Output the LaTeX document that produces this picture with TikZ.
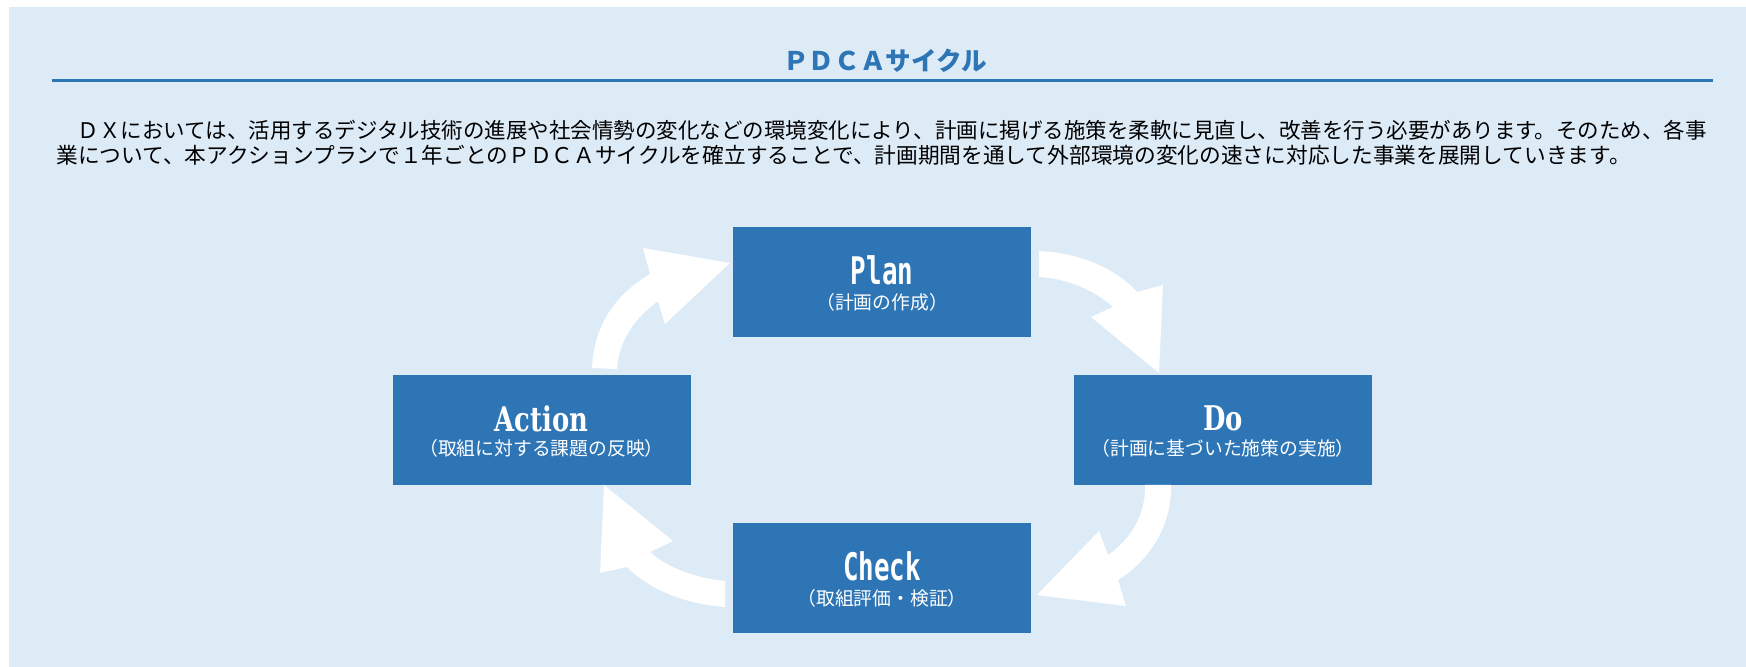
\documentclass[tikz,border=0pt]{standalone}
\usepackage{fontspec}
\usepackage{graphicx}
\newfontfamily\jpfont{Noto Sans CJK JP}
\newfontfamily\monosans{DejaVu Sans Mono}
\newfontfamily\serifhead{DejaVu Serif}
\definecolor{panelbg}{HTML}{DDEBF7}
\definecolor{boxblue}{HTML}{2E75B6}
\tikzset{
  stagebox/.style={fill=boxblue, draw=none, minimum width=149pt, minimum height=55pt, inner sep=0pt},
  mainlbl/.style={text=white, inner sep=0pt},
  sublbl/.style={text=white, inner sep=0pt, font=\jpfont\fontsize{9.4pt}{10pt}\selectfont},
  bodyline/.style={anchor=west, inner sep=0pt, text=black},
  blockarrow/.style={fill=white, draw=none}
}
\begin{document}
\begin{tikzpicture}[x=0.5pt,y=-0.5pt]
\useasboundingbox (0,0) rectangle (1746,667);
\fill[white] (0,0) rectangle (1746,667);
\fill[panelbg] (9,7) rectangle (1746,667);

% title
\node[inner sep=0pt, text=boxblue, font=\jpfont\bfseries\fontsize{12.8pt}{14pt}\selectfont] (title) at (885,61) {ＰＤＣＡサイクル};
\coordinate (ulA) at (52,80.5);
\coordinate (ulB) at (1713,80.5);
\draw[boxblue, line width=1.8pt] (ulA) -- (ulB);

% body text
\node[bodyline, font=\jpfont\fontsize{10.75pt}{12pt}\selectfont] (line1) at (56,130) {　ＤＸにおいては、活用するデジタル技術の進展や社会情勢の変化などの環境変化により、計画に掲げる施策を柔軟に見直し、改善を行う必要があります。そのため、各事};
\node[bodyline, font=\jpfont\fontsize{10.85pt}{12pt}\selectfont] (line2) at (56,155) {業について、本アクションプランで１年ごとのＰＤＣＡサイクルを確立することで、計画期間を通して外部環境の変化の速さに対応した事業を展開していきます。};

% stage boxes
\node[stagebox] (plan) at (882,282.5) {};
\node[stagebox] (action) at (541.5,430.5) {};
\node[stagebox] (do) at (1223,430.5) {};
\node[stagebox] (check) at (882,578) {};

\node[mainlbl] (planT) at ([yshift=6pt]plan.center) {\scalebox{0.68}[1]{\monosans\bfseries\fontsize{19pt}{19pt}\selectfont Plan}};
\node[sublbl] (planS) at ([yshift=-10pt]plan.center) {（計画の作成）};

\node[mainlbl] (actionT) at ([yshift=6pt]action.center) {\scalebox{0.76}[1]{\serifhead\bfseries\fontsize{17pt}{17pt}\selectfont Action}};
\node[sublbl] (actionS) at ([yshift=-9pt]action.center) {（取組に対する課題の反映）};

\node[mainlbl] (doT) at ([yshift=6pt]do.center) {\scalebox{0.76}[1]{\serifhead\bfseries\fontsize{17pt}{17pt}\selectfont Do}};
\node[sublbl] (doS) at ([yshift=-9pt]do.center) {（計画に基づいた施策の実施）};

\node[mainlbl] (checkT) at ([yshift=6pt]check.center) {\scalebox{0.68}[1]{\monosans\bfseries\fontsize{19pt}{19pt}\selectfont Check}};
\node[sublbl] (checkS) at ([yshift=-10pt]check.center) {（取組評価・検証）};

% curved block arrows
\fill[blockarrow] (1039,251) .. controls (1080,253) and (1115,268) .. (1137,292)
  -- (1163,285) -- (1159,373) -- (1091,317) -- (1113,307)
  .. controls (1095,291) and (1070,279) .. (1039,277) -- cycle;
\fill[blockarrow] (1145,485) -- (1171,485) .. controls (1172,525) and (1150,560) .. (1118,580)
  -- (1126,606) -- (1037,595) -- (1099,531) -- (1108,555)
  .. controls (1130,540) and (1146,515) .. (1145,485) -- cycle;
\fill[blockarrow] (725,581) -- (725,607) .. controls (685,604) and (650,590) .. (627,567)
  -- (600,573) -- (604,485) -- (673,541) -- (650,552)
  .. controls (668,568) and (695,578) .. (725,581) -- cycle;
\fill[blockarrow] (592,368) .. controls (594,325) and (615,295) .. (650,274)
  -- (643,248) -- (730,263) -- (665,324) -- (658,301)
  .. controls (635,318) and (619,340) .. (617,369) -- cycle;
\end{tikzpicture}
\end{document}
